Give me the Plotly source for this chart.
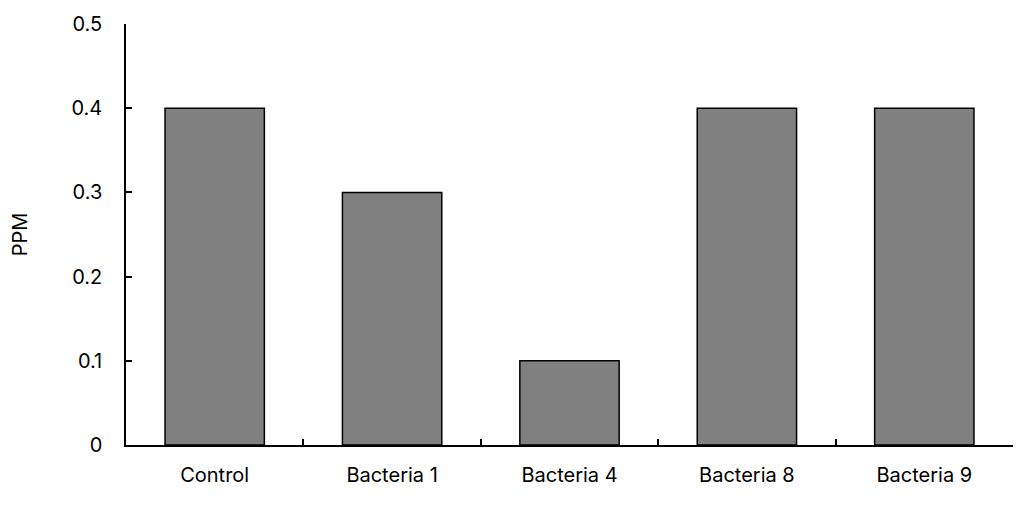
import plotly.graph_objects as go

categories = ["Control", "Bacteria 1", "Bacteria 4", "Bacteria 8", "Bacteria 9"]
ppm_values = [0.4, 0.3, 0.1, 0.4, 0.4]
y_tick_values = [0, 0.1, 0.2, 0.3, 0.4, 0.5]
y_tick_labels = ["0", "0.1", "0.2", "0.3", "0.4", "0.5"]

font_family = "Inter, Liberation Sans, Arial, sans-serif"

fig = go.Figure(
    go.Bar(
        x=categories,
        y=ppm_values,
        marker=dict(color="#808080", line=dict(color="#000000", width=1.5)),
        hoverinfo="x+y",
    )
)

fig.update_layout(
    width=1008,
    height=491,
    margin=dict(l=118, r=3, t=16, b=54),
    paper_bgcolor="#ffffff",
    plot_bgcolor="#ffffff",
    bargap=0.44,
    showlegend=False,
    font=dict(family=font_family, size=20, color="#000000"),
)

fig.update_xaxes(
    type="category",
    range=[-0.5, 4.5],
    showline=True,
    linecolor="#000000",
    linewidth=1.5,
    ticks="inside",
    tickson="boundaries",
    ticklen=6,
    tickwidth=1.5,
    tickcolor="#000000",
    showgrid=False,
    zeroline=False,
    ticklabelstandoff=11,
    tickfont=dict(family=font_family, size=20, color="#000000"),
)

fig.update_yaxes(
    range=[0, 0.5],
    tickvals=y_tick_values,
    ticktext=y_tick_labels,
    showline=True,
    linecolor="#000000",
    linewidth=1.5,
    ticks="inside",
    ticklen=6,
    tickwidth=1.5,
    tickcolor="#000000",
    showgrid=False,
    zeroline=False,
    ticklabelstandoff=18,
    tickfont=dict(family=font_family, size=20, color="#000000"),
    title=dict(text="PPM", font=dict(family=font_family, size=20, color="#000000"), standoff=46),
)

fig.write_html("out.html")
